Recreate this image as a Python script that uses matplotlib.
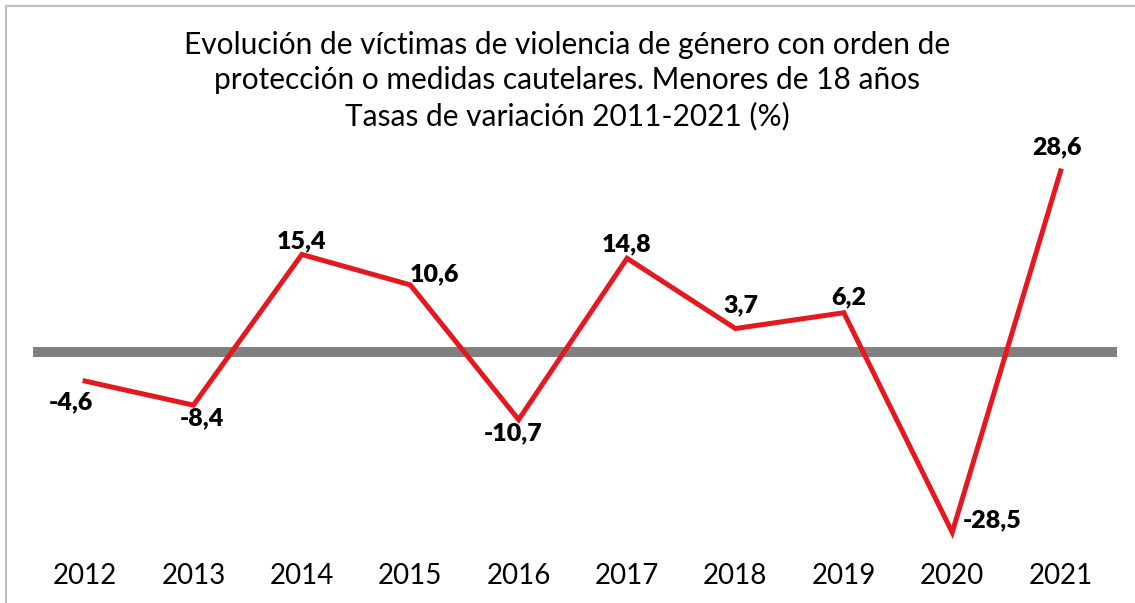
import matplotlib
matplotlib.use("Agg")
import matplotlib.pyplot as plt
from matplotlib.patches import Rectangle

# datos
years = ["2012", "2013", "2014", "2015", "2016", "2017", "2018", "2019", "2020", "2021"]
tasas = [-4.6, -8.4, 15.4, 10.6, -10.7, 14.8, 3.7, 6.2, -28.5, 28.6]

# desplazamiento de las etiquetas (pixeles)
label_offsets = [(-14, -21), (9, -13), (0, 13), (24, 11), (-6, -14),
                 (0, 14), (6, 23), (5, 15), (40, 12), (-4, 24)]

plt.rcParams['font.family'] = ['Lato', 'DejaVu Sans']

fig = plt.figure(figsize=(11.35, 6.03), dpi=100)
ax = fig.add_axes([33 / 1135, 58 / 603, 1084 / 1135, 400 / 603])

x = list(range(len(years)))

# linea del cero
ax.axhline(0, color="#808080", linewidth=7.2, zorder=1)

ax.plot(x, tasas, color="#E3191F", linewidth=3.6, solid_joinstyle="miter", zorder=2)

for i, v in enumerate(tasas):
    txt = f"{v:.1f}".replace(".", ",")
    dx, dy = label_offsets[i]
    ax.annotate(txt, (i, v), xytext=(dx, dy), textcoords="offset pixels",
                ha="center", va="center", fontsize=18, fontweight="heavy",
                color="black", zorder=3)

ax.set_xlim(-0.48, 9.52)
ax.set_ylim(-30.5, 32.7)
ax.set_xticks(x)
ax.set_xticklabels(years, fontsize=20)
ax.tick_params(axis="x", length=0, pad=13)
ax.set_yticks([])
for s in ax.spines.values():
    s.set_visible(False)

titulo = ["Evolución de víctimas de violencia de género con orden de",
          "protección o medidas cautelares. Menores de 18 años",
          "Tasas de variación 2011-2021 (%)"]
for yy, linea in zip([45, 80, 116], titulo):
    fig.text(0.5, 1 - yy / 603, linea, ha="center", va="center", fontsize=21.5)

# marco
fig.patches.append(Rectangle((6 / 1135, -0.05), 1.2, 1 - 6 / 603 + 0.05,
                             transform=fig.transFigure, fill=False,
                             edgecolor="#bfbfbf", linewidth=1.5))

plt.savefig("out.png", dpi=100)
